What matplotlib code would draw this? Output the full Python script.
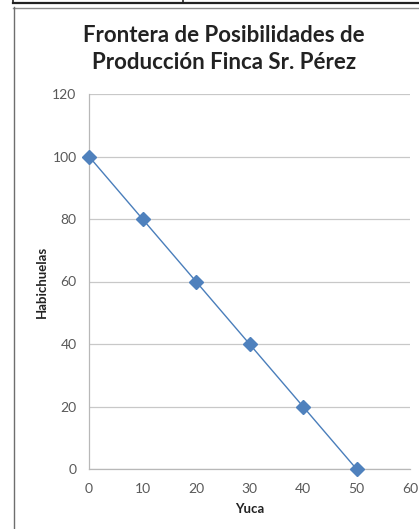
import matplotlib
matplotlib.use("Agg")
import matplotlib.pyplot as plt
from matplotlib.lines import Line2D

W, H = 419, 529

yuca = [0, 10, 20, 30, 40, 50]
habichuelas = [100, 80, 60, 40, 20, 0]
x_ticks = [0, 10, 20, 30, 40, 50, 60]
y_ticks = [0, 20, 40, 60, 80, 100, 120]

title = "Frontera de Posibilidades de\nProducción Finca Sr. Pérez"
x_label = "Yuca"
y_label = "Habichuelas"

plt.rcParams["font.family"] = ["Lato", "DejaVu Sans"]

fig = plt.figure(figsize=(W / 100, H / 100), dpi=100)


def px(x0, y0, x1, y1, **kw):
    # line in pixel coordinates (origin top-left)
    fig.add_artist(Line2D([x0 / W, x1 / W], [1 - y0 / H, 1 - y1 / H],
                          transform=fig.transFigure, **kw))


# fragment of the table above the chart and the chart frame
px(13, 3, W, 3, color="#222222", lw=1.6)
px(13, 0, 13, 3, color="#222222", lw=1.2)
px(183, 0, 183, 3, color="#222222", lw=1.2)
px(13, 7.5, W, 7.5, color="#8c8c8c", lw=1.0)
px(13.5, 7, 13.5, H, color="#6e6e6e", lw=1.0)

ax = fig.add_axes([89 / W, 1 - 469 / H, (410 - 89) / W, (469 - 94) / H])
ax.plot(yuca, habichuelas, color="#4a7ebb", lw=1.0, marker="D",
        markersize=7, markerfacecolor="#4f81bd", markeredgecolor="#4f81bd",
        clip_on=False, zorder=3)

ax.set_xlim(0, 60)
ax.set_ylim(0, 120)
ax.set_xticks(x_ticks)
ax.set_yticks(y_ticks)
ax.tick_params(length=0, labelsize=10, colors="#595959")
ax.tick_params(axis="x", pad=10)
ax.tick_params(axis="y", pad=9)
ax.grid(axis="y", color="#c8c8c8", lw=0.9)
ax.set_axisbelow(True)
for side in ["top", "right"]:
    ax.spines[side].set_visible(False)
for side in ["left", "bottom"]:
    ax.spines[side].set_color("#b8b8b8")
    ax.spines[side].set_linewidth(0.9)

ax.set_xlabel(x_label, fontsize=9.5, fontweight="bold", color="#222222")
ax.set_ylabel(y_label, fontsize=9.5, fontweight="bold", color="#222222")
ax.xaxis.set_label_coords((250 - 89) / (410 - 89), -(509 - 469) / (469 - 94))
ax.yaxis.set_label_coords(-(89 - 42) / (410 - 89), (469 - 282) / (469 - 94))
ax.xaxis.label.set_va("center")
ax.yaxis.label.set_va("center")

fig.text(224 / W, 1 - 49 / H, title, ha="center", va="center",
         fontsize=16, fontweight="bold", color="#222222", linespacing=1.35)

fig.savefig("out.png", dpi=100, facecolor="white")
